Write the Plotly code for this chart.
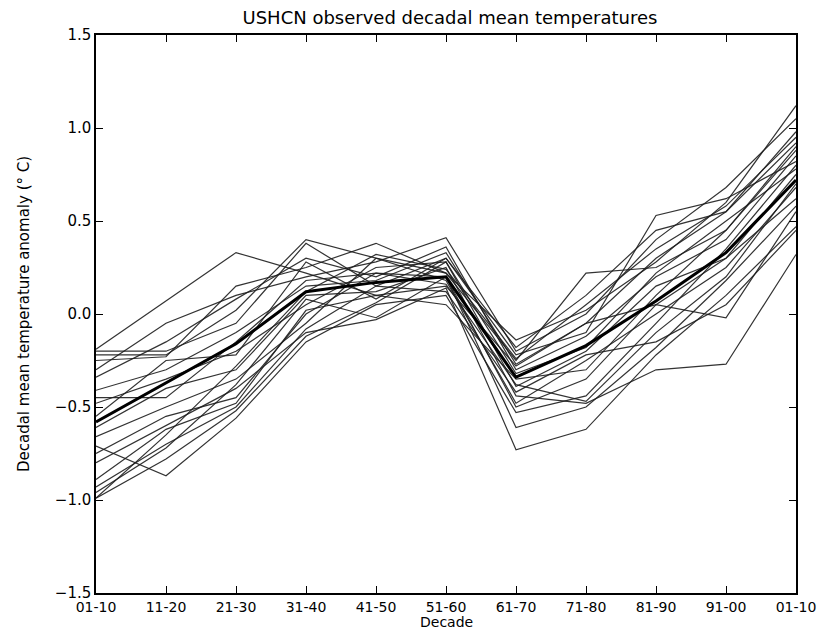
import plotly.graph_objects as go

decades = ["01-10", "11-20", "21-30", "31-40", "41-50", "51-60",
           "61-70", "71-80", "81-90", "91-00", "01-10"]

mean_series = [-0.58, -0.37, -0.16, 0.12, 0.17, 0.20, -0.34, -0.17, 0.07, 0.33, 0.72]

s01 = [-0.19, 0.07, 0.33, 0.22, 0.10, 0.15, -0.28, -0.05, 0.30, 0.55, 0.92]
s02 = [-0.22, -0.22, 0.02, 0.40, 0.30, 0.22, -0.14, 0.02, 0.28, 0.60, 1.12]
s03 = [-0.20, -0.20, -0.05, 0.38, 0.15, 0.30, -0.22, -0.10, 0.53, 0.62, 0.82]
s04 = [-0.25, -0.23, 0.15, 0.25, 0.38, 0.22, -0.25, 0.22, 0.25, 0.45, 0.90]
s05 = [-0.30, -0.05, 0.10, 0.20, 0.28, 0.41, -0.20, 0.00, 0.40, 0.68, 1.05]
s06 = [-0.34, -0.15, 0.08, 0.30, 0.20, 0.36, -0.30, -0.12, 0.20, 0.40, 0.85]
s07 = [-0.41, -0.30, -0.10, 0.15, 0.18, 0.33, -0.27, -0.05, 0.05, -0.02, 0.55]
s08 = [-0.48, -0.35, -0.20, 0.05, 0.25, 0.28, -0.39, -0.20, 0.15, 0.30, 0.75]
s09 = [-0.61, -0.40, -0.30, 0.10, 0.12, 0.25, -0.44, -0.48, -0.30, -0.27, 0.32]
s10 = [-0.66, -0.50, -0.35, -0.05, 0.30, 0.18, -0.48, -0.25, 0.00, 0.25, 0.68]
s11 = [-0.71, -0.87, -0.56, -0.15, 0.05, 0.10, -0.53, -0.44, -0.05, 0.35, 0.80]
s12 = [-0.75, -0.55, -0.45, 0.00, 0.22, 0.20, -0.61, -0.50, -0.18, 0.18, 0.58]
s13 = [-0.80, -0.60, -0.40, -0.10, -0.03, 0.14, -0.73, -0.62, -0.22, 0.10, 0.47]
s14 = [-0.89, -0.62, -0.48, 0.02, 0.10, 0.05, -0.35, -0.30, 0.10, 0.45, 0.88]
s15 = [-0.93, -0.70, -0.50, -0.08, 0.15, 0.12, -0.42, -0.22, -0.15, 0.05, 0.45]
s16 = [-0.96, -0.72, -0.38, 0.08, -0.02, 0.20, -0.50, -0.35, 0.05, 0.30, 0.62]
s17 = [-0.99, -0.78, -0.52, -0.12, 0.06, 0.28, -0.32, -0.18, 0.22, 0.50, 0.78]
s18 = [-0.99, -0.65, -0.28, 0.12, 0.32, 0.24, -0.24, 0.05, 0.35, 0.58, 0.95]
s19 = [-0.45, -0.45, -0.15, 0.18, 0.22, 0.16, -0.38, -0.47, -0.10, 0.20, 0.70]
s20 = [-0.55, -0.25, -0.22, 0.28, 0.08, 0.30, -0.18, 0.10, 0.45, 0.55, 0.98]

stations = [s01, s02, s03, s04, s05, s06, s07, s08, s09, s10,
            s11, s12, s13, s14, s15, s16, s17, s18, s19, s20]

y_ticks = [-1.5, -1.0, -0.5, 0.0, 0.5, 1.0, 1.5]

x_idx = list(range(len(decades)))

fig = go.Figure()
for s in stations:
    fig.add_trace(go.Scatter(x=x_idx, y=s, mode="lines",
                             line=dict(color="#1e1e1e", width=1.2),
                             opacity=0.9, showlegend=False, hoverinfo="skip"))
fig.add_trace(go.Scatter(x=x_idx, y=mean_series, mode="lines",
                         line=dict(color="black", width=3),
                         showlegend=False))

font_family = "DejaVu Sans, sans-serif"
axis_common = dict(showline=True, linecolor="black", linewidth=1.5, mirror="allticks",
                   ticks="inside", ticklen=7, tickcolor="black", showgrid=False,
                   zeroline=False)

fig.update_layout(
    width=820, height=625,
    paper_bgcolor="white", plot_bgcolor="white",
    margin=dict(l=88, r=26, t=27, b=40),
    title=dict(text="USHCN observed decadal mean temperatures",
               x=0.539, xanchor="center", y=0.984, yanchor="middle",
               font=dict(family=font_family, size=18, color="black")),
    xaxis=dict(range=[0, len(decades) - 1], tickvals=x_idx, ticktext=decades,
               tickfont=dict(family=font_family, size=14, color="black"),
               **axis_common),
    yaxis=dict(range=[-1.5, 1.5], tickvals=y_ticks, tickformat=".1f",
               tickfont=dict(family=font_family, size=15, color="black"),
               title=dict(text="Decadal mean temperature anomaly (° C)", standoff=22,
                          font=dict(family=font_family, size=15, color="black")),
               **axis_common),
    annotations=[dict(text="Decade", xref="paper", yref="paper", x=0.5, y=-0.052,
                      xanchor="center", yanchor="middle", showarrow=False,
                      font=dict(family=font_family, size=14, color="black"))],
)

fig.write_html("out.html")
